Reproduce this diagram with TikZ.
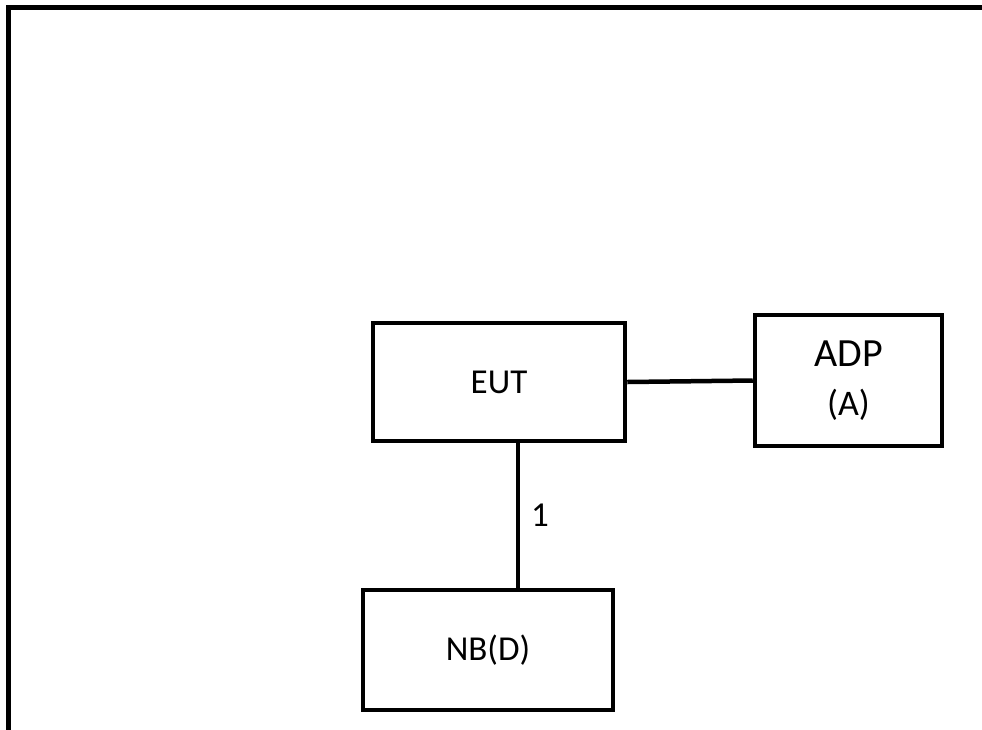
\documentclass[tikz,border=0pt]{standalone}
\usepackage{fontspec}
\setmainfont{Carlito}
\begin{document}
\begin{tikzpicture}[x=1pt,y=-1pt,
  box/.style={draw, line width=4.5pt, minimum width=#1, inner sep=0pt, align=center, font=\fontsize{35}{42}\selectfont},
  conn/.style={line width=4.5pt},
  frame/.style={line width=5pt, line join=miter}]
\useasboundingbox (0,0) rectangle (982,729);
\draw[frame] (8.5,735) -- (8.5,7.5) -- (990,7.5);
\node[box=252pt, minimum height=118pt] (EUT) at (499,382) {EUT};
\node[box=187pt, minimum height=131pt] (ADP) at (848.5,380.5) {{\fontsize{40}{46}\selectfont ADP}\\[7pt]{\fontsize{36}{40}\selectfont (A)}};
\node[box=250pt, minimum height=120pt] (NB) at (488,650) {NB(D)};
\coordinate (v) at (518,0);
\draw[conn] (EUT.east) -- (ADP.west);
\draw[conn] (EUT.south -| v) -- (NB.north -| v) node[midway, xshift=22pt, font=\fontsize{35}{42}\selectfont] {1};
\end{tikzpicture}
\end{document}
